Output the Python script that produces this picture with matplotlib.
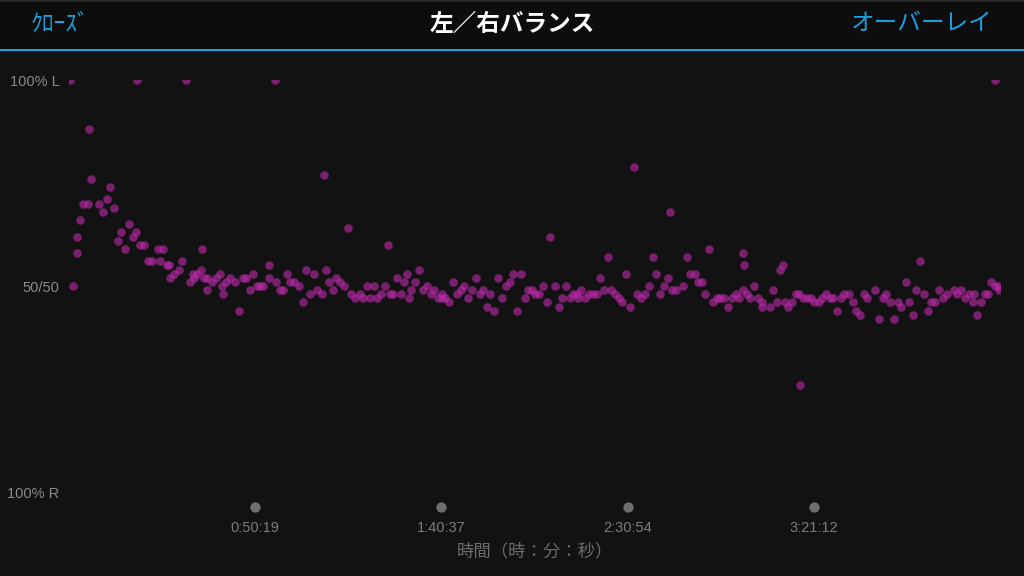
import matplotlib.pyplot as plt
from matplotlib.patches import Rectangle
from matplotlib.transforms import blended_transform_factory

plt.rcParams['font.family'] = ['Noto Sans CJK JP', 'DejaVu Sans']

# elapsed time (minutes) and left share of power (%)
minutes = [
    0.3, 1.1, 2.2, 2.2, 3.0, 3.9, 5.0, 5.4, 6.0, 8.2, 9.2, 10.3, 11.2, 12.2, 13.3,
    14.1, 15.2, 16.3, 17.3, 18.2, 18.5, 19.3, 20.3, 21.3, 22.3, 24.0, 24.5, 25.3,
    26.5, 27.0, 27.4, 28.5, 29.6, 30.6, 31.5, 32.7, 33.4, 33.9, 34.6, 35.7, 35.9,
    36.5, 37.3, 37.4, 38.6, 39.6, 40.7, 41.4, 41.7, 42.5, 43.4, 44.8, 45.9, 47.0,
    47.7, 48.8, 49.8, 50.8, 51.7, 52.5, 53.9, 54.0, 55.7, 56.0, 57.1, 57.9, 58.9,
    59.8, 60.8, 62.1, 63.1, 64.1, 65.2, 66.2, 67.1, 68.3, 68.9, 69.3, 70.2, 71.2,
    72.2, 73.3, 74.3, 75.3, 76.3, 77.3, 78.5, 79.4, 80.5, 81.4, 82.4, 83.3, 84.4,
    85.4, 86.3, 86.8, 87.5, 88.6, 89.6, 90.6, 91.4, 91.9, 92.5, 93.5, 94.6, 95.6,
    96.7, 97.7, 98.7, 99.6, 100.8, 100.9, 101.7, 102.7, 103.7, 104.8, 105.8, 106.8,
    107.8, 108.9, 109.9, 111.0, 111.9, 112.9, 113.8, 114.9, 115.9, 117.0, 118.0,
    119.1, 120.0, 121.1, 122.1, 123.2, 124.1, 125.1, 126.0, 127.1, 128.1, 129.1,
    130.0, 131.2, 132.3, 133.3, 134.4, 135.4, 136.2, 137.3, 137.4, 138.3, 139.4,
    140.4, 141.5, 142.6, 143.5, 144.5, 145.5, 146.5, 147.5, 148.5, 149.5, 150.5,
    151.6, 152.6, 153.5, 154.6, 155.7, 156.7, 157.8, 158.6, 159.7, 160.7, 161.7,
    162.4, 162.8, 163.9, 165.9, 166.9, 167.9, 169.0, 169.9, 171.0, 171.8, 172.8,
    174.0, 175.0, 176.0, 177.0, 178.1, 179.2, 180.2, 181.1, 182.1, 182.1, 182.3,
    183.1, 184.1, 185.1, 186.2, 187.2, 187.2, 189.3, 190.2, 191.3, 192.1, 192.8,
    193.3, 194.2, 195.3, 196.4, 197.3, 197.5, 198.3, 199.4, 200.4, 201.4, 202.5,
    203.4, 204.4, 205.5, 206.4, 207.5, 208.6, 209.5, 210.7, 211.7, 212.7, 213.7,
    214.7, 215.7, 217.7, 218.7, 219.8, 220.8, 221.8, 222.8, 223.9, 224.9, 226.0,
    227.0, 227.9, 228.9, 229.9, 230.9, 232.0, 232.9, 234.0, 235.1, 236.1, 237.1,
    239.0, 239.9, 241.1, 242.1, 243.1, 244.2, 244.6, 245.2, 246.3, 247.4, 248.3,
    249.2, 250.1, 250.1, 251.0, 251.3,
]
left_pct = [
    100, 50, 58, 62, 66, 70, 70, 88, 76, 70, 68, 71, 74, 69, 61,
    63, 59, 65, 62, 63, 100, 60, 60, 56, 56, 59, 56, 59,
    55, 55, 52, 53, 54, 56, 100, 51, 53, 52, 53, 54, 59,
    52, 52, 49, 51, 52, 53, 50, 48, 51, 52, 51, 44, 52,
    52, 49, 53, 50, 50, 50, 55, 52, 100, 51, 49, 49, 53,
    51, 51, 50, 46, 54, 48, 53, 49, 48, 77, 54, 51, 49,
    52, 51, 50, 64, 48, 47, 48, 47, 50, 47, 50, 47, 48,
    50, 60, 48, 48, 52, 48, 51, 53, 47, 49, 51, 54, 49,
    50, 48, 49, 47, 48, 47, 47, 46, 51, 48, 49, 50,
    47, 49, 52, 48, 49, 45, 48, 44, 52, 47, 50,
    51, 53, 44, 53, 47, 49, 49, 48, 48, 50, 46,
    62, 50, 45, 47, 50, 47, 48, 48, 47, 49, 47,
    48, 48, 48, 52, 49, 57, 49, 48, 47, 46, 53,
    45, 79, 48, 47, 48, 50, 57, 53, 48, 50, 52,
    68, 49, 49, 50, 57, 53, 53, 51, 51, 48, 59,
    46, 47, 47, 47, 45, 47, 48, 47, 58, 49, 55,
    48, 47, 50, 47, 46, 45, 45, 49, 46, 54, 55,
    46, 45, 46, 48, 48, 26, 47, 47, 47, 46, 46,
    47, 48, 47, 47, 44, 47, 48, 48, 46, 44, 43,
    48, 47, 49, 42, 47, 48, 46, 42, 46, 45, 51,
    46, 43, 49, 56, 48, 44, 46, 46, 49, 47, 48,
    49, 48, 49, 47, 48, 46, 48, 43, 46, 48, 48,
    51, 50, 100, 50, 49,
]

total_minutes = 15091 / 60  # 4:11:31
tick_minutes = [3019 / 60, 6037 / 60, 9054 / 60, 12072 / 60]
tick_labels = ['0:50:19', '1:40:37', '2:30:54', '3:21:12']
y_ticks = [0, 50, 100]
y_labels = ['100% R', '50/50', '100% L']

BG = '#121212'
HEADER = '#0d0d0d'
BLUE = '#1a9fe0'
GREY = '#8a8a8a'
LATIN = ['Liberation Sans', 'DejaVu Sans']

fig = plt.figure(figsize=(10.24, 5.76), dpi=100, facecolor=BG)

# header bar
fig.add_artist(Rectangle((0, 1 - 50 / 576), 1, 50 / 576, transform=fig.transFigure,
                         facecolor=HEADER, edgecolor='none', zorder=0))
fig.add_artist(Rectangle((0, 1 - 2 / 576), 1, 2 / 576, transform=fig.transFigure,
                         facecolor='#2a2a2a', edgecolor='none', zorder=1))
fig.add_artist(Rectangle((0, 1 - 51 / 576), 1, 2.2 / 576, transform=fig.transFigure,
                         facecolor=BLUE, edgecolor='none', zorder=1))
fig.text(0.030, 1 - 24 / 576, 'ｸﾛｰｽﾞ', color=BLUE, fontsize=17, ha='left', va='center')
fig.text(0.5, 1 - 24 / 576, '左／右バランス', color='white', fontsize=17,
         fontweight='bold', ha='center', va='center')
fig.text(0.969, 1 - 24 / 576, 'オーバーレイ', color=BLUE, fontsize=17, ha='right', va='center')

ax = fig.add_axes([69 / 1024, 1 - 492 / 576, 931 / 1024, 412 / 576])
ax.set_facecolor(BG)
ax.scatter(minutes, left_pct, s=38, color='#c02aae', alpha=0.6, linewidths=0, zorder=3)

ax.set_xlim(0, total_minutes)
ax.set_ylim(0, 100)
for sp in ax.spines.values():
    sp.set_visible(False)

ax.set_yticks(y_ticks)
ax.set_yticklabels(y_labels, family=LATIN)
ax.set_xticks(tick_minutes)
ax.set_xticklabels(tick_labels, family=LATIN)
ax.tick_params(axis='y', length=0, pad=7, labelsize=10.5, labelcolor=GREY)
ax.tick_params(axis='x', length=0, pad=21, labelsize=10.5, labelcolor='#7c7c7c')

# round tick markers under the plot
trans = blended_transform_factory(ax.transData, ax.transAxes)
ax.scatter(tick_minutes, [-15 / 412] * len(tick_minutes), s=55, color='#6e6e6e',
           linewidths=0, transform=trans, clip_on=False)

ax.set_xlabel('時間（時：分：秒）', color='#6c6c6c', fontsize=12.5, labelpad=5)

fig.savefig('out.png', dpi=100, facecolor=BG)
